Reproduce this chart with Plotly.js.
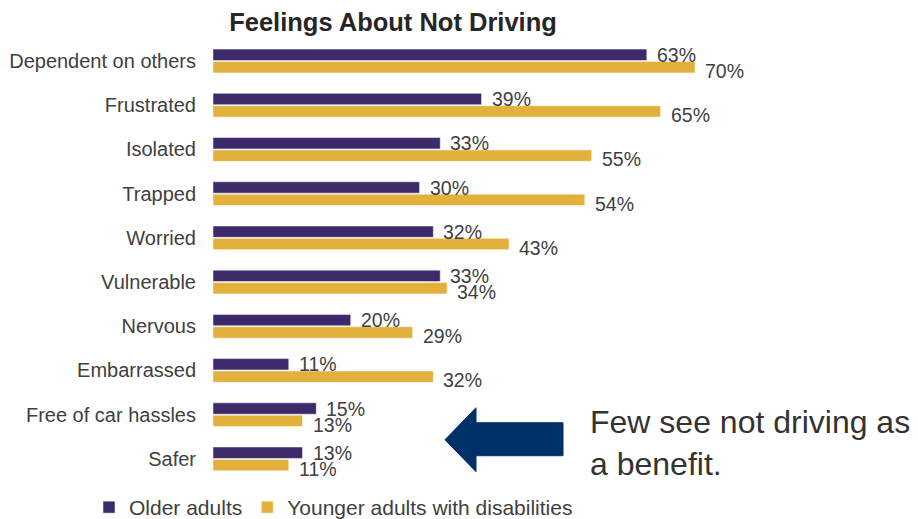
<!DOCTYPE html>
<html>
<head>
<meta charset="utf-8">
<script src="https://cdn.plot.ly/plotly-3.0.1.min.js"></script>
<style>html,body{margin:0;padding:0;background:#fff;}#chart{width:918px;height:519px;}</style>
</head>
<body>
<div id="chart"></div>
<script>
const categories = ["Dependent on others","Frustrated","Isolated","Trapped","Worried","Vulnerable","Nervous","Embarrassed","Free of car hassles","Safer"];
const olderAdults = [63,39,33,30,32,33,20,11,15,13];
const youngerAdults = [70,65,55,54,43,34,29,32,13,11];
const seriesNames = ["Older adults","Younger adults with disabilities"];
const titleText = "Feelings About Not Driving";
const noteText = "Few see not driving as<br>a benefit.";

const purple = "#3D2A6B";
const gold = "#E3B13B";
const fontFam = "'Liberation Sans', Arial, sans-serif";
const textCol = "#404040";

const traces = [
  {type:"bar", orientation:"h", name:seriesNames[0], y:categories, x:olderAdults,
   marker:{color:purple, line:{color:"#ffffff", width:0.5}}, hoverinfo:"x+y"},
  {type:"bar", orientation:"h", name:seriesNames[1], y:categories, x:youngerAdults,
   marker:{color:gold, line:{color:"#ffffff", width:0.5}}, hoverinfo:"x+y"}
];

const annotations = [];
categories.forEach((c,i)=>{
  annotations.push({x:olderAdults[i], y:c, xref:"x", yref:"y", text:olderAdults[i]+"%", showarrow:false,
    xanchor:"left", yanchor:"middle", xshift:8, yshift:6, font:{family:fontFam, size:19.5, color:textCol}});
  annotations.push({x:youngerAdults[i], y:c, xref:"x", yref:"y", text:youngerAdults[i]+"%", showarrow:false,
    xanchor:"left", yanchor:"middle", xshift:8, yshift:-10, font:{family:fontFam, size:19.5, color:textCol}});
});
// note text
const L=213, W=705, T=38, H=443.3;
const px = v => (v-L)/W;
const py = v => (T+H-v)/H;
annotations.push({xref:"paper", yref:"paper", x:px(588), y:py(443.5), xanchor:"left", yanchor:"middle", align:"left",
  text:noteText, showarrow:false, font:{family:fontFam, size:32, color:"#333333"}});

const arrowPath = "M "+px(445)+" "+py(440)+" L "+px(476)+" "+py(408)+" L "+px(476)+" "+py(423)+" L "+px(563)+" "+py(423)+
  " L "+px(563)+" "+py(456)+" L "+px(476)+" "+py(456)+" L "+px(476)+" "+py(472)+" Z";

const layout = {
  width:918, height:519,
  margin:{l:L, r:918-L-W, t:T, b:519-T-H, pad:0, autoexpand:false},
  paper_bgcolor:"#ffffff", plot_bgcolor:"#ffffff",
  title:{text:"<b>"+titleText+"</b>", font:{family:fontFam, size:25.5, color:"#262626"}, x:393/918, xanchor:"center", y:1-22/519, yanchor:"middle"},
  barmode:"group", bargap:0.44, bargroupgap:0.08,
  xaxis:{range:[0, W/6.886], showgrid:false, zeroline:false, showticklabels:false, showline:false, fixedrange:true, automargin:false},
  yaxis:{autorange:"reversed", showgrid:false, zeroline:false, showline:false, ticks:"", ticklabelstandoff:16, automargin:false,
    tickfont:{family:fontFam, size:20, color:textCol}},
  showlegend:true,
  legend:{orientation:"h", x:89/918, xref:"container", xanchor:"left", y:1-507.5/519, yref:"container", yanchor:"middle", traceorder:"normal",
    font:{family:fontFam, size:21, color:textCol}, itemwidth:30, bgcolor:"rgba(0,0,0,0)"},
  shapes:[{type:"path", xref:"paper", yref:"paper", path:arrowPath, fillcolor:"#003068", line:{color:"#003068", width:1}}],
  annotations:annotations
};
Plotly.newPlot("chart", traces, layout, {displayModeBar:false, staticPlot:true});
</script>
</body>
</html>
